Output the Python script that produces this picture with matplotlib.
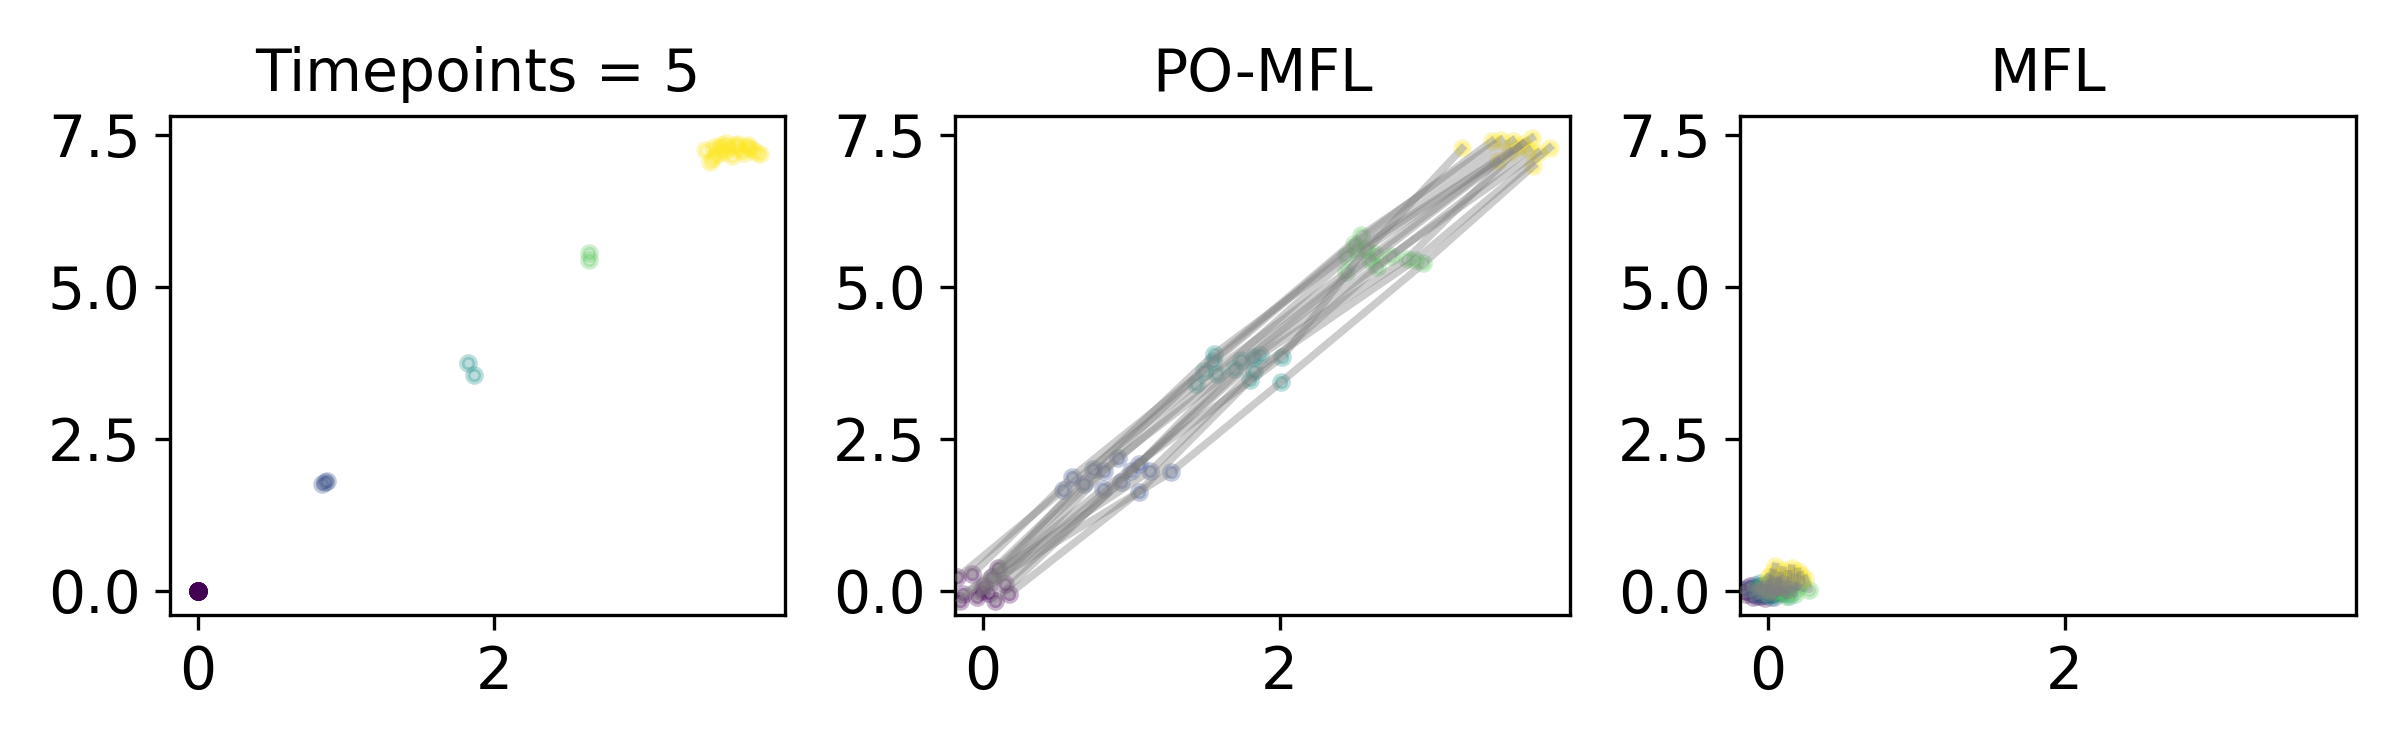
import matplotlib
matplotlib.use("Agg")
import matplotlib.pyplot as plt
import numpy as np

plt.rcParams['font.family'] = ['DejaVu Sans']
plt.rcParams['font.size'] = 14

titles = ["Timepoints = 5", "PO-MFL", "MFL"]
xticks = [0, 2]
yticks = [0.0, 2.5, 5.0, 7.5]

# ---- Panel 1: ground truth (points per timepoint) ----
gt_t0_x = [0.0] * 16
gt_t0_y = [0.0] * 16
gt_t1_x = [0.84, 0.86, 0.87]
gt_t1_y = [1.76, 1.79, 1.81]
gt_t2_x = [1.82, 1.86]
gt_t2_y = [3.74, 3.55]
gt_t3_x = [2.64, 2.64]
gt_t3_y = [5.56, 5.44]
gt_t4_x = [3.42, 3.45, 3.48, 3.50, 3.53, 3.55, 3.58, 3.60, 3.62, 3.65, 3.68, 3.70, 3.73, 3.76, 3.79, 3.47,
           3.56, 3.64, 3.52, 3.71]
gt_t4_y = [7.25, 7.05, 7.30, 7.18, 7.33, 7.22, 7.28, 7.15, 7.32, 7.24, 7.20, 7.30, 7.26, 7.22, 7.18, 7.12,
           7.36, 7.34, 7.27, 7.33]

# ---- Panel 2: PO-MFL trajectories (index i across timepoints = trajectory i) ----
po_t0_x = [-0.17, -0.07, -0.15, -0.01, 0.04, 0.10, 0.15, 0.18, 0.08, -0.04, -0.13, 0.01, 0.06]
po_t0_y = [0.22, 0.27, -0.16, 0.00, -0.03, 0.38, 0.11, -0.05, -0.16, -0.11, -0.05, 0.08, 0.22]
po_t1_x = [0.54, 0.60, 0.68, 0.74, 0.82, 0.91, 0.93, 1.05, 1.00, 1.05, 1.13, 1.27, 0.81]
po_t1_y = [1.65, 1.87, 1.76, 2.00, 1.97, 2.19, 1.78, 1.62, 1.97, 2.08, 1.97, 1.95, 1.67]
po_t2_x = [1.44, 1.49, 1.55, 1.56, 1.58, 1.69, 1.74, 1.80, 1.83, 1.87, 1.83, 2.01, 2.02]
po_t2_y = [3.40, 3.62, 3.78, 3.89, 3.57, 3.65, 3.79, 3.46, 3.84, 3.87, 3.62, 3.43, 3.84]
po_t3_x = [2.45, 2.50, 2.55, 2.45, 2.52, 2.61, 2.64, 2.66, 2.75, 2.86, 2.91, 2.97, 2.58]
po_t3_y = [5.24, 5.70, 5.84, 5.51, 5.60, 5.43, 5.54, 5.32, 5.51, 5.46, 5.43, 5.38, 5.62]
po_t4_x = [3.23, 3.43, 3.49, 3.57, 3.70, 3.61, 3.47, 3.68, 3.74, 3.64, 3.82, 3.71, 3.55]
po_t4_y = [7.27, 7.39, 7.41, 7.40, 7.44, 7.30, 7.06, 7.25, 7.20, 7.35, 7.28, 6.98, 7.22]

# ---- Panel 3: MFL trajectories ----
mfl_t0_x = [-0.17, -0.15, -0.12, -0.10, -0.08, -0.06, -0.05, -0.03, -0.02, 0.00, 0.02, 0.03, 0.05]
mfl_t0_y = [0.02, -0.06, 0.08, -0.10, 0.00, 0.06, -0.08, 0.04, -0.12, 0.01, -0.05, 0.07, -0.02]
mfl_t1_x = [-0.14, -0.11, -0.09, -0.07, -0.04, -0.02, 0.00, 0.02, 0.04, 0.06, 0.08, 0.10, 0.01]
mfl_t1_y = [0.05, -0.04, 0.09, -0.08, 0.02, 0.10, -0.06, 0.04, -0.10, 0.07, 0.00, -0.03, 0.12]
mfl_t2_x = [-0.08, -0.05, -0.03, 0.00, 0.02, 0.04, 0.06, 0.08, 0.10, 0.12, 0.14, 0.03, 0.07]
mfl_t2_y = [0.04, 0.12, -0.06, 0.08, -0.10, 0.15, 0.02, -0.04, 0.10, 0.01, -0.08, 0.18, 0.06]
mfl_t3_x = [-0.03, 0.00, 0.03, 0.06, 0.08, 0.10, 0.13, 0.15, 0.18, 0.20, 0.23, 0.28, 0.12]
mfl_t3_y = [0.10, 0.02, 0.16, -0.04, 0.08, 0.20, 0.00, 0.12, -0.06, 0.06, 0.14, 0.02, -0.08]
mfl_t4_x = [0.00, 0.03, 0.05, 0.08, 0.10, 0.12, 0.14, 0.16, 0.18, 0.20, 0.22, 0.25, 0.07]
mfl_t4_y = [0.22, 0.30, 0.40, 0.25, 0.34, 0.18, 0.28, 0.37, 0.22, 0.32, 0.26, 0.20, 0.15]

gt = [(gt_t0_x, gt_t0_y), (gt_t1_x, gt_t1_y), (gt_t2_x, gt_t2_y), (gt_t3_x, gt_t3_y), (gt_t4_x, gt_t4_y)]
po = [(po_t0_x, po_t0_y), (po_t1_x, po_t1_y), (po_t2_x, po_t2_y), (po_t3_x, po_t3_y), (po_t4_x, po_t4_y)]
mfl = [(mfl_t0_x, mfl_t0_y), (mfl_t1_x, mfl_t1_y), (mfl_t2_x, mfl_t2_y), (mfl_t3_x, mfl_t3_y), (mfl_t4_x, mfl_t4_y)]

cmap = plt.get_cmap('viridis')
n_t = 5
colors = [cmap(t / (n_t - 1)) for t in range(n_t)]

fig, axes = plt.subplots(1, 3, figsize=(8, 2.5), dpi=300)
fig.subplots_adjust(left=0.0708, right=0.9815, bottom=0.1796, top=0.845, wspace=0.276)


def draw_points(ax, data):
    for t, (xs, ys) in enumerate(data):
        ax.scatter(xs, ys, s=10, color=colors[t], alpha=0.3, linewidths=1.3, zorder=2)


def draw_lines(ax, data):
    n = len(data[0][0])
    for i in range(n):
        xs = [data[t][0][i] for t in range(len(data))]
        ys = [data[t][1][i] for t in range(len(data))]
        ax.plot(xs, ys, color='grey', alpha=0.4, lw=1.8, zorder=3)


draw_points(axes[0], gt)
draw_points(axes[1], po)
draw_lines(axes[1], po)
draw_points(axes[2], mfl)
draw_lines(axes[2], mfl)

for ax, title in zip(axes, titles):
    ax.set_title(title, fontsize=14)
    ax.set_xlim(-0.186, 3.96)
    ax.set_ylim(-0.403, 7.80)
    ax.set_xticks(xticks)
    ax.set_yticks(yticks)
    ax.tick_params(labelsize=14)

fig.savefig("out.png", dpi=300)
